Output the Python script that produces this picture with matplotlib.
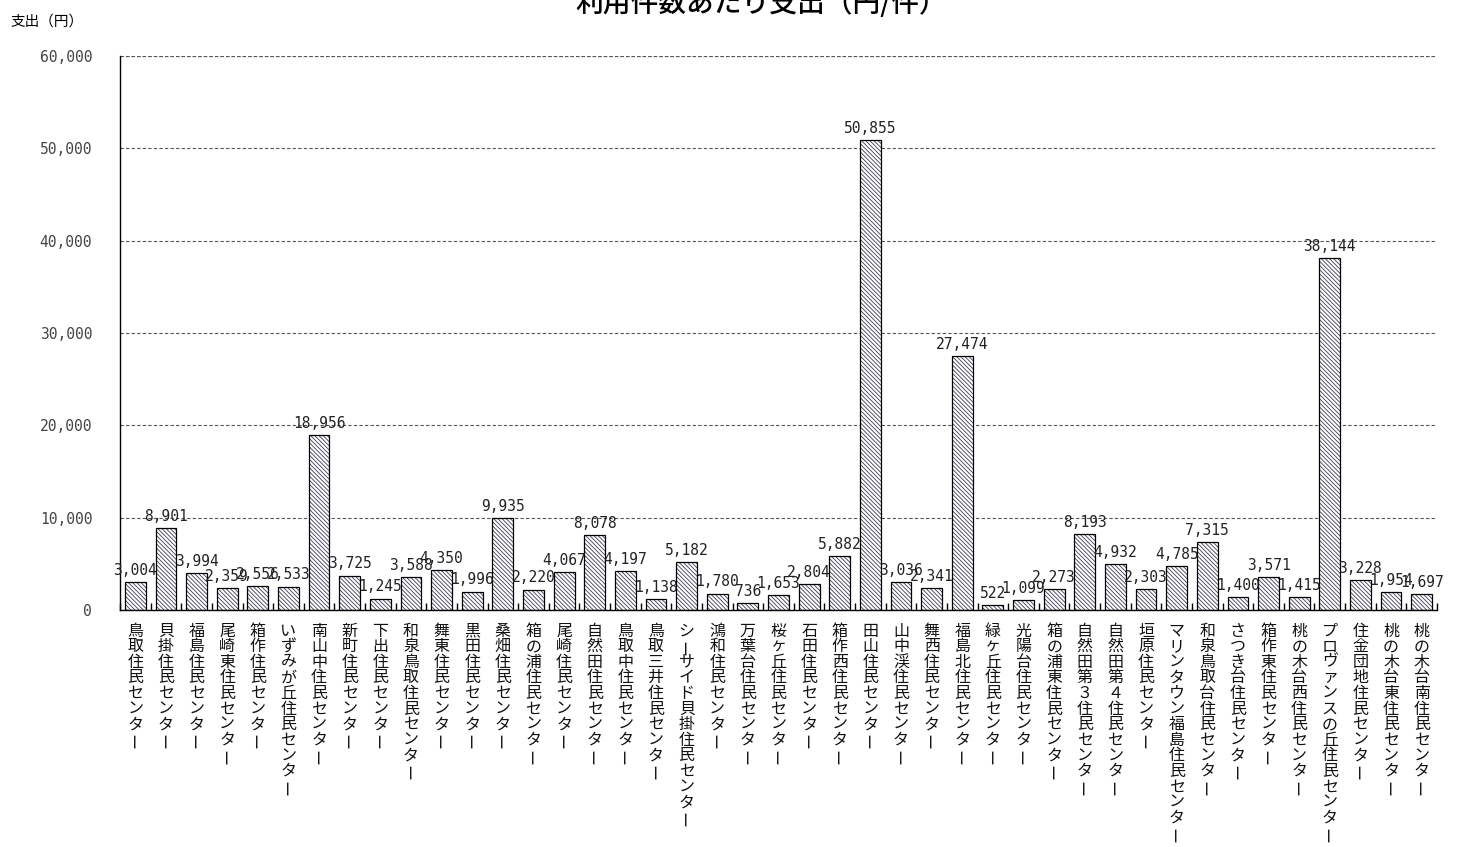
import numpy as np
import matplotlib.pyplot as plt
from matplotlib.ticker import FuncFormatter, MultipleLocator

plt.rcParams['font.family'] = ['Noto Sans CJK JP', 'DejaVu Sans']
plt.rcParams['hatch.linewidth'] = 0.6

centers = [
    "鳥取住民センター", "貝掛住民センター", "福島住民センター", "尾崎東住民センター",
    "箱作住民センター", "いずみが丘住民センター", "南山中住民センター", "新町住民センター",
    "下出住民センター", "和泉鳥取住民センター", "舞東住民センター", "黒田住民センター",
    "桑畑住民センター", "箱の浦住民センター", "尾崎住民センター", "自然田住民センター",
    "鳥取中住民センター", "鳥取三井住民センター", "シーサイド貝掛住民センター", "鴻和住民センター",
    "万葉台住民センター", "桜ヶ丘住民センター", "石田住民センター", "箱作西住民センター",
    "田山住民センター", "山中渓住民センター", "舞西住民センター", "福島北住民センター",
    "緑ヶ丘住民センター", "光陽台住民センター", "箱の浦東住民センター", "自然田第３住民センター",
    "自然田第４住民センター", "垣原住民センター", "マリンタウン福島住民センター", "和泉鳥取台住民センター",
    "さつき台住民センター", "箱作東住民センター", "桃の木台西住民センター", "プロヴァンスの丘住民センター",
    "住金団地住民センター", "桃の木台東住民センター", "桃の木台南住民センター",
]
cost_per_use = [
    3004, 8901, 3994, 2359, 2556, 2533, 18956, 3725, 1245, 3588, 4350, 1996,
    9935, 2220, 4067, 8078, 4197, 1138, 5182, 1780, 736, 1653, 2804, 5882,
    50855, 3036, 2341, 27474, 522, 1099, 2273, 8193, 4932, 2303, 4785, 7315,
    1400, 3571, 1415, 38144, 3228, 1954, 1697,
]
y_ticks = [0, 10000, 20000, 30000, 40000, 50000, 60000]

num_font = 'DejaVu Sans Mono'

fig = plt.figure(figsize=(14.72, 8.47), dpi=100)
ax = fig.add_axes([120 / 1472, 1 - 610 / 847, 1317 / 1472, 554 / 847])

x = np.arange(len(centers))
# hatched fill first, then a clean black outline on top
ax.bar(x, cost_per_use, width=0.68, color='white', edgecolor='#3c3c58',
       hatch='\\\\\\\\\\\\\\\\', linewidth=0, zorder=2)
ax.bar(x, cost_per_use, width=0.68, color='none', edgecolor='black',
       linewidth=0.9, zorder=3)

for xi, v in zip(x, cost_per_use):
    ax.annotate(f"{v:,}", (xi, v), xytext=(0, 3), textcoords='offset points',
                ha='center', va='bottom', fontsize=10.5, family=num_font,
                color='#222222', zorder=4)

ax.set_xlim(-0.5, len(centers) - 0.5)
ax.set_ylim(0, 60000)
ax.set_yticks(y_ticks)
ax.yaxis.set_major_formatter(FuncFormatter(lambda v, p: f"{int(v):,}"))
ax.tick_params(axis='y', length=0, pad=20, labelsize=10.5)
for lab in ax.get_yticklabels():
    lab.set_family(num_font)
    lab.set_color('#444444')

ax.grid(axis='y', linestyle=(0, (3, 2)), color='#555555', linewidth=0.8, zorder=1)
ax.axhline(60000, linestyle=(0, (3, 2)), color='#555555', linewidth=0.8, zorder=1)
ax.spines['top'].set_visible(False)
ax.spines['right'].set_visible(False)
ax.spines['left'].set_linewidth(1.0)
ax.spines['bottom'].set_linewidth(1.0)

# category boundary ticks pointing into the plot
ax.set_xticks([])
ax.xaxis.set_minor_locator(MultipleLocator(1, offset=0.5))
ax.tick_params(axis='x', which='minor', direction='in', length=5, width=1.0)

# vertical (top-to-bottom) category names, one character per row
trans = ax.get_xaxis_transform()
for xi, name in zip(x, centers):
    for j, ch in enumerate(name):
        ax.annotate(ch, (xi, 0), xycoords=trans,
                    xytext=(0, -21 - j * 15.6), textcoords='offset pixels',
                    ha='center', va='center', fontsize=11.5,
                    rotation=90 if ch == 'ー' else 0, color='#111111',
                    annotation_clip=False)

fig.text(0.517, 0.996, "利用件数あたり支出（円/件）", ha='center', va='center',
         fontsize=20, fontweight='medium')
fig.text(0.007, 1 - 22 / 847, "支出（円）", ha='left', va='center', fontsize=10.5)

fig.savefig('out.png', dpi=100)
